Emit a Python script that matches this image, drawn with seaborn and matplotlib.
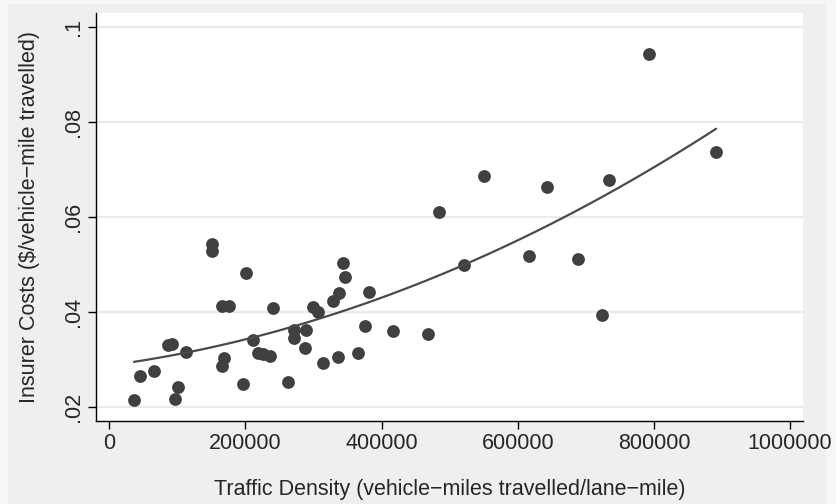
import matplotlib
matplotlib.use('Agg')
import matplotlib.pyplot as plt
from matplotlib.patches import Rectangle
import seaborn as sns
import numpy as np
import pandas as pd

# Traffic density (vehicle-miles travelled / lane-mile)
density = [36300, 45100, 65700, 86200, 92100, 96500, 100900, 112700, 150900, 150900,
           165600, 175900, 165600, 168500, 200800, 196400, 211100, 218500, 225800, 236100,
           240500, 262500, 271300, 271300, 288900, 287500, 299300, 306600, 314000, 328700,
           337500, 343400, 346300, 336000, 365400, 375700, 381500, 416800, 468200, 484400,
           550500, 521100, 616600, 643000, 688600, 723800, 734100, 792900, 891300]
# Insurer costs ($ / vehicle-mile travelled)
costs = [0.0215, 0.0265, 0.0276, 0.0331, 0.0333, 0.0217, 0.0242, 0.0316, 0.0543, 0.0528,
         0.0413, 0.0413, 0.0286, 0.0303, 0.0482, 0.0248, 0.0341, 0.0314, 0.0312, 0.0307,
         0.0408, 0.0253, 0.0362, 0.0345, 0.0362, 0.0324, 0.0411, 0.0400, 0.0293, 0.0423,
         0.0440, 0.0503, 0.0474, 0.0305, 0.0314, 0.0371, 0.0442, 0.0360, 0.0354, 0.0611,
         0.0686, 0.0499, 0.0518, 0.0663, 0.0512, 0.0394, 0.0678, 0.0943, 0.0737]

x_ticks = [0, 200000, 400000, 600000, 800000, 1000000]
x_ticklabels = ['0', '200000', '400000', '600000', '800000', '1000000']
y_ticks = [0.02, 0.04, 0.06, 0.08, 0.1]
y_ticklabels = ['.02', '.04', '.06', '.08', '.1']

df = pd.DataFrame({'density': density, 'costs': costs})

sns.set_style('white')
plt.rcParams['font.family'] = ['Liberation Sans', 'DejaVu Sans']

fig = plt.figure(figsize=(8.37, 5.04), dpi=100, facecolor='#f6f6f6')
# slightly darker inner graph region, like the Stata export
fig.patches.append(Rectangle((8 / 837, 0), (826 - 8) / 837, 1 - 4 / 504,
                             transform=fig.transFigure, facecolor='#efefef',
                             edgecolor='none', zorder=-10))
ax = fig.add_axes([0.1147, 0.1647, 0.9594 - 0.1147, 0.9742 - 0.1647])
ax.set_facecolor('white')

dark = '#404040'
sns.regplot(data=df, x='density', y='costs', order=2, ci=None, ax=ax,
            scatter_kws={'s': 85, 'color': dark, 'alpha': 1, 'linewidths': 0},
            line_kws={'color': '#4a4a4a', 'linewidth': 1.6})

ax.set_xlim(-19500, 1019000)
ax.set_ylim(0.01705, 0.10295)
ax.set_xticks(x_ticks)
ax.set_xticklabels(x_ticklabels, fontsize=15.5)
ax.set_yticks(y_ticks)
ax.set_yticklabels(y_ticklabels, fontsize=15.5, rotation=90, va='center')
ax.yaxis.grid(True, color='#eaeaea', linewidth=1.6)
ax.set_axisbelow(True)
ax.tick_params(axis='both', direction='out', length=6, width=1, color='black',
               left=True, bottom=True, pad=3)

for side in ['top', 'right']:
    ax.spines[side].set_visible(False)
for side in ['left', 'bottom']:
    ax.spines[side].set_color('black')
    ax.spines[side].set_linewidth(1)

ax.set_xlabel('Traffic Density (vehicle\u2212miles travelled/lane\u2212mile)', fontsize=15.5, labelpad=18)
ax.set_ylabel('Insurer Costs ($/vehicle\u2212mile travelled)', fontsize=15.5, labelpad=16)

fig.savefig('out.png', dpi=100, facecolor=fig.get_facecolor())
